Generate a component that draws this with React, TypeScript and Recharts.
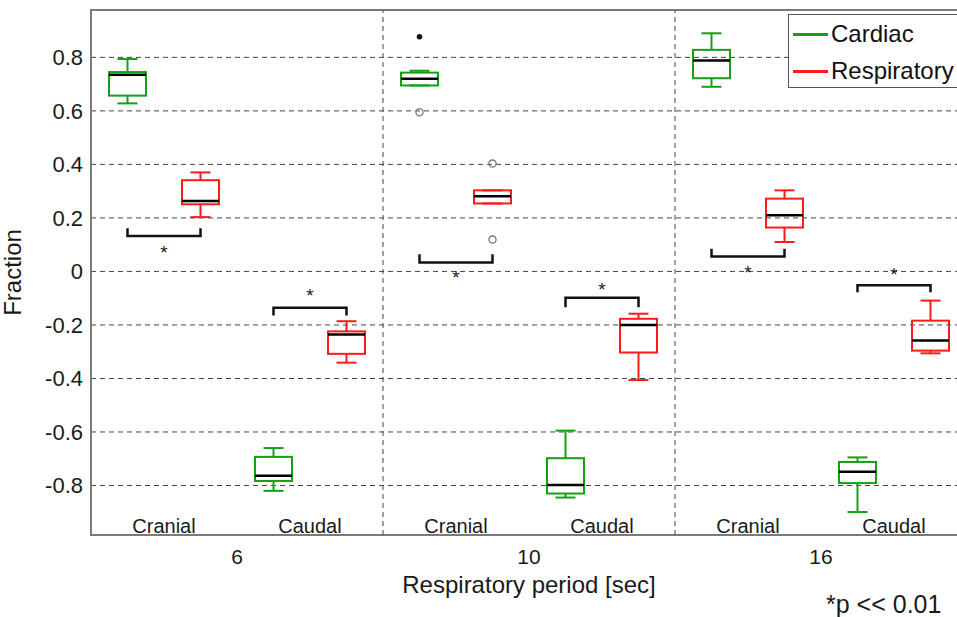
import {
  ComposedChart,
  Bar,
  Line,
  Scatter,
  XAxis,
  YAxis,
  CartesianGrid,
  ReferenceLine,
  ReferenceArea,
} from "recharts";

const FONT = "'Liberation Sans', Arial, Helvetica, sans-serif";

// x axis groups (respiratory period) and the two regions inside each group
const periods = ["6", "10", "16"];
const regions = ["Cranial", "Caudal"];
const signals = ["Cardiac", "Respiratory"];
const signalColors = ["#14a014", "#ff1a1a"];

// box stats, order: 6 cranial, 6 caudal, 10 cranial, 10 caudal, 16 cranial, 16 caudal
const cardiacMin = [0.628, -0.82, 0.695, -0.845, 0.69, -0.899];
const cardiacQ1 = [0.657, -0.783, 0.695, -0.83, 0.722, -0.791];
const cardiacMed = [0.735, -0.764, 0.72, -0.798, 0.788, -0.749];
const cardiacQ3 = [0.745, -0.693, 0.743, -0.698, 0.828, -0.712];
const cardiacMax = [0.794, -0.66, 0.75, -0.595, 0.89, -0.695];

const respMin = [0.203, -0.341, 0.254, -0.406, 0.11, -0.306];
const respQ1 = [0.251, -0.308, 0.254, -0.303, 0.164, -0.296];
const respMed = [0.263, -0.236, 0.281, -0.2, 0.21, -0.258];
const respQ3 = [0.341, -0.224, 0.303, -0.177, 0.272, -0.184];
const respMax = [0.37, -0.186, 0.303, -0.158, 0.303, -0.109];

// outliers (10 sec, cranial)
const outlierSlot = [4, 4, 5, 5];
const outlierValue = [0.877, 0.595, 0.403, 0.119];
const outlierFilled = [true, false, false, false];

// significance brackets, same order as the boxes
const bracketBar = [0.132, -0.136, 0.033, -0.098, 0.056, -0.052];
const bracketTip = [0.161, -0.165, 0.064, -0.134, 0.085, -0.078];
const starY = [0.09, -0.071, -0.003, -0.049, 0.016, 0.01];

const yTicks = [-0.8, -0.6, -0.4, -0.2, 0, 0.2, 0.4, 0.6, 0.8];
const Y_MIN = -0.985;
const Y_MAX = 0.977;
const REGION_LABEL_Y = -0.951;

const SLOTS = periods.length * regions.length * signals.length;
const slotX = (slot: number) => (slot + 0.5) / (regions.length * signals.length);

const boxRows = Array.from({ length: SLOTS }, (_, slot) => {
  const box = Math.floor(slot / 2);
  const signal = slot % 2;
  const src =
    signal === 0
      ? [cardiacMin, cardiacQ1, cardiacMed, cardiacQ3, cardiacMax]
      : [respMin, respQ1, respMed, respQ3, respMax];
  return {
    slot: "s" + slot,
    signal,
    min: src[0][box],
    q1: src[1][box],
    med: src[2][box],
    q3: src[3][box],
    max: src[4][box],
  };
});

const outliers = outlierSlot.map((s, i) => ({
  x: slotX(s),
  y: outlierValue[i],
  filled: outlierFilled[i],
}));

const brackets = bracketBar.map((bar, i) => {
  const x1 = slotX(i * 2);
  const x2 = slotX(i * 2 + 1);
  return [
    { x: x1, y: bracketTip[i] },
    { x: x1, y: bar },
    { x: x2, y: bar },
    { x: x2, y: bracketTip[i] },
  ];
});

const stars = starY.map((y, i) => ({
  x: (slotX(i * 2) + slotX(i * 2 + 1)) / 2,
  y,
  text: "*",
}));

const regionLabels = periods.flatMap((_, g) =>
  regions.map((r, ri) => ({ x: g + (ri + 0.5) / regions.length, y: REGION_LABEL_Y, text: r }))
);

function BoxShape(props: any) {
  const { x, y, width, height, payload } = props;
  if (x == null || y == null) return null;
  const top = Math.min(y, y + height);
  const bottom = Math.max(y, y + height);
  const span = payload.max - payload.min;
  const py = (v: number) => top + ((payload.max - v) / span) * (bottom - top);
  const color = signalColors[payload.signal];
  const cx = x + width / 2;
  const cap = width * 0.27;
  return (
    <g>
      <line x1={cx} x2={cx} y1={py(payload.max)} y2={py(payload.q3)} stroke={color} strokeWidth={2} />
      <line x1={cx} x2={cx} y1={py(payload.q1)} y2={py(payload.min)} stroke={color} strokeWidth={2} />
      <line x1={cx - cap} x2={cx + cap} y1={py(payload.max)} y2={py(payload.max)} stroke={color} strokeWidth={2} />
      <line x1={cx - cap} x2={cx + cap} y1={py(payload.min)} y2={py(payload.min)} stroke={color} strokeWidth={2} />
      <rect
        x={x}
        y={py(payload.q3)}
        width={width}
        height={py(payload.q1) - py(payload.q3)}
        fill="none"
        stroke={color}
        strokeWidth={2}
      />
      <line x1={x} x2={x + width} y1={py(payload.med)} y2={py(payload.med)} stroke="#000" strokeWidth={2.5} />
    </g>
  );
}

function OutlierShape(props: any) {
  const { cx, cy, payload } = props;
  return payload.filled ? (
    <circle cx={cx} cy={cy} r={2.8} fill="#111" />
  ) : (
    <circle cx={cx} cy={cy} r={3.6} fill="none" stroke="#777" strokeWidth={1.3} />
  );
}

function TextShape(size: number, dy: string) {
  return (props: any) => (
    <text
      x={props.cx}
      y={props.cy}
      dy={dy}
      textAnchor="middle"
      fontSize={size}
      fontFamily={FONT}
      fill="#1a1a1a"
    >
      {props.payload.text}
    </text>
  );
}

export default function App() {
  return (
    <div
      style={{
        position: "fixed",
        left: 0,
        top: 0,
        width: 957,
        height: 617,
        overflow: "hidden",
        background: "#fff",
        fontFamily: FONT,
      }}
    >
      <ComposedChart
        width={1000}
        height={617}
        data={boxRows}
        margin={{ top: 10, right: 33, bottom: 0, left: 0 }}
      >
        <CartesianGrid vertical={false} stroke="#444" strokeDasharray="5 4" />
        <XAxis xAxisId="slot" dataKey="slot" type="category" hide />
        <XAxis
          xAxisId="grp"
          dataKey="x"
          type="number"
          domain={[0, periods.length]}
          ticks={periods.map((_, i) => i + 0.5)}
          tickFormatter={(v: number) => periods[Math.floor(v)]}
          allowDataOverflow
          height={82}
          axisLine={false}
          tickLine={false}
          tickSize={0}
          tickMargin={14}
          tick={{ fontSize: 21, fill: "#1a1a1a", fontFamily: FONT }}
          label={{
            value: "Respiratory period [sec]",
            position: "insideBottom",
            offset: 24,
            fontSize: 24,
            fill: "#1a1a1a",
            fontFamily: FONT,
          }}
        />
        <YAxis
          dataKey="y"
          type="number"
          domain={[Y_MIN, Y_MAX]}
          ticks={yTicks}
          allowDataOverflow
          width={91}
          axisLine={false}
          tickLine={false}
          tickSize={0}
          tickMargin={8}
          tick={{ fontSize: 22, fill: "#1a1a1a", fontFamily: FONT }}
          label={{
            value: "Fraction",
            angle: -90,
            position: "insideLeft",
            offset: 12,
            fontSize: 24,
            fill: "#1a1a1a",
            fontFamily: FONT,
            style: { textAnchor: "middle" },
          }}
        />
        {periods.slice(1).map((_, i) => (
          <ReferenceLine
            key={i}
            xAxisId="grp"
            x={i + 1}
            stroke="#444"
            strokeDasharray="5 4"
          />
        ))}
        <ReferenceArea
          xAxisId="grp"
          x1={0}
          x2={periods.length}
          y1={Y_MIN}
          y2={Y_MAX}
          fill="none"
          stroke="#7a7a7a"
          strokeWidth={2}
          ifOverflow="visible"
        />
        <Bar
          xAxisId="slot"
          dataKey={(d: any) => [d.min, d.max]}
          barSize={37}
          isAnimationActive={false}
          shape={(p: any) => <BoxShape {...p} />}
        />
        {brackets.map((pts, i) => (
          <Line
            key={i}
            xAxisId="grp"
            data={pts}
            dataKey="y"
            type="linear"
            stroke="#111"
            strokeWidth={2.5}
            dot={false}
            activeDot={false}
            isAnimationActive={false}
          />
        ))}
        <Scatter
          xAxisId="grp"
          data={outliers}
          dataKey="y"
          isAnimationActive={false}
          shape={(p: any) => <OutlierShape {...p} />}
        />
        <Scatter
          xAxisId="grp"
          data={stars}
          dataKey="y"
          isAnimationActive={false}
          shape={TextShape(19, "0.62em")}
        />
        <Scatter
          xAxisId="grp"
          data={regionLabels}
          dataKey="y"
          isAnimationActive={false}
          shape={TextShape(20, "0.35em")}
        />
      </ComposedChart>
      <div
        style={{
          position: "absolute",
          left: 788,
          top: 14,
          width: 200,
          height: 74,
          border: "1.5px solid #555",
          background: "#fff",
          boxSizing: "border-box",
        }}
      >
        {signals.map((s, i) => (
          <div
            key={s}
            style={{
              position: "absolute",
              left: 4,
              top: 4 + i * 37,
              height: 30,
              display: "flex",
              alignItems: "center",
              fontSize: 24,
              color: "#111",
              whiteSpace: "nowrap",
            }}
          >
            <span
              style={{
                display: "inline-block",
                width: 35,
                height: 3,
                background: signalColors[i],
                marginRight: 3,
              }}
            />
            {s}
          </div>
        ))}
      </div>
      <div
        style={{
          position: "absolute",
          left: 826,
          top: 590,
          fontSize: 25,
          color: "#1a1a1a",
          whiteSpace: "nowrap",
        }}
      >
        *p &lt;&lt; 0.01
      </div>
    </div>
  );
}
